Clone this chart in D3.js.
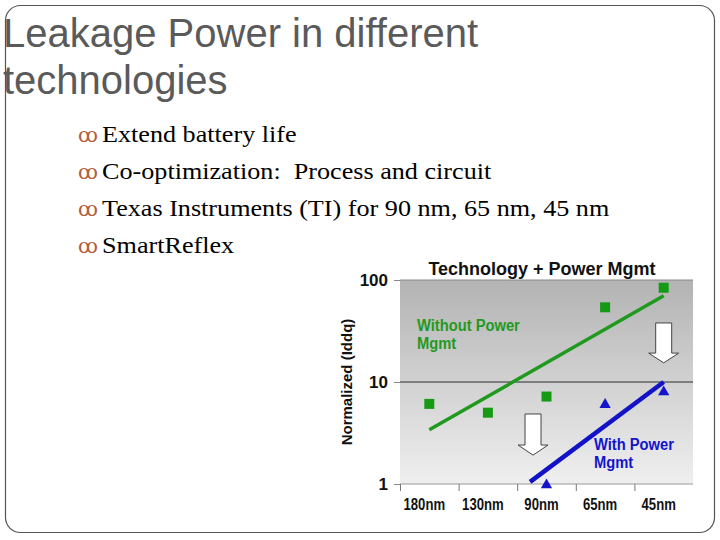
<!DOCTYPE html>
<html>
<head>
<meta charset="utf-8">
<script src="https://cdn.jsdelivr.net/npm/d3@7"></script>
<style>
  body { margin: 0; background: #fff; }
  svg text { font-family: "Liberation Sans", Arial, sans-serif; }
</style>
</head>
<body>
<script>
// slide text
let slideTitle = ["Leakage Power in different", "technologies"];
let bullets = [
  "Extend battery life",
  "Co-optimization:  Process and circuit",
  "Texas Instruments (TI) for 90 nm, 65 nm, 45 nm",
  "SmartReflex"
];

// chart data
let nodes = ["180nm", "130nm", "90nm", "65nm", "45nm"];
let withoutPM = [6.1, 5.0, 7.2, 54, 84];
let withPM = [null, null, 0.98, 6.0, 8.0];
// trend lines: [node index, value]
let withoutTrend = [[0, 3.4], [4, 70]];
let withTrend = [[1.72, 1.05], [4, 10]];
let yTicks = [1, 10, 100];
// arrows: node index, value at top, at start of head, at tip
let arrows = [
  { i: 1.77, top: 4.86, neck: 2.41, tip: 1.92 },
  { i: 4.0, top: 37.9, neck: 19.2, tip: 15.4 }
];

let width = 720, height = 540;
let svg = d3.select("body").append("svg")
  .attr("width", width)
  .attr("height", height);

// slide frame
svg.append("rect")
  .attr("x", 5.5).attr("y", 5.5)
  .attr("width", 709).attr("height", 527)
  .attr("rx", 15)
  .attr("fill", "none")
  .attr("stroke", "#555")
  .attr("stroke-width", 1.2);

// slide title
svg.selectAll("text.title")
  .data(slideTitle)
  .enter().append("text")
  .attr("class", "title")
  .attr("x", 3)
  .attr("y", function(d, i) { return 47 + i * 47; })
  .attr("font-size", 40)
  .attr("fill", "#5a5a5a")
  .text(function(d) { return d; });

// bullets
let bl = svg.selectAll("g.bullet")
  .data(bullets)
  .enter().append("g")
  .attr("class", "bullet")
  .attr("transform", function(d, i) { return "translate(0," + (142 + i * 37) + ")"; });

bl.append("text")
  .attr("x", 78)
  .attr("font-size", 20)
  .attr("fill", "#b0603c")
  .style("font-family", "DejaVu Serif, serif")
  .text("\uA74F");

bl.append("text")
  .attr("transform", "translate(102,0) scale(1.09,1)")
  .attr("font-size", 24)
  .attr("fill", "#000")
  .style("white-space", "pre")
  .style("font-family", "'Liberation Serif', 'Times New Roman', serif")
  .text(function(d) { return d; });

////////////////////////////////////////////////////////////////////////
// chart

let pLeft = 400, pRight = 693, pTop = 280, pBottom = 484;

let x = d3.scaleBand().domain(nodes).range([pLeft, pRight]);
let xi = d3.scaleLinear().domain([-0.5, nodes.length - 0.5]).range([pLeft, pRight]);
let y = d3.scaleLog().domain([1, 100]).range([pBottom, pTop]);

let defs = svg.append("defs");
let grad = defs.append("linearGradient")
  .attr("id", "bg")
  .attr("x1", 0).attr("y1", 0).attr("x2", 0).attr("y2", 1);
grad.append("stop").attr("offset", "0%").attr("stop-color", "#b3b3b3");
grad.append("stop").attr("offset", "78%").attr("stop-color", "#e2e2e2");
grad.append("stop").attr("offset", "100%").attr("stop-color", "#efefef");

svg.append("rect")
  .attr("x", pLeft).attr("y", pTop)
  .attr("width", pRight - pLeft).attr("height", pBottom - pTop)
  .attr("fill", "url(#bg)");

// grid lines at 100 and 10
svg.selectAll("line.grid")
  .data([100, 10])
  .enter().append("line")
  .attr("class", "grid")
  .attr("x1", pLeft).attr("x2", pRight)
  .attr("y1", function(d) { return y(d); })
  .attr("y2", function(d) { return y(d); })
  .attr("stroke", function(d) { return d === 10 ? "#2a2a2a" : "#8a8a8a"; })
  .attr("stroke-width", 1);

// y axis
let yAxis = svg.append("g")
  .attr("transform", "translate(" + pLeft + ",0)")
  .call(d3.axisLeft(y).tickValues(yTicks).tickFormat(d3.format("d")).tickSize(6).tickPadding(6));
yAxis.select(".domain").remove();
yAxis.selectAll(".tick line").attr("stroke", "#888");
yAxis.selectAll(".tick text")
  .attr("font-size", 17)
  .attr("font-weight", "bold")
  .attr("fill", "#111")
  .style("font-family", "'Liberation Sans', Arial, sans-serif");

// x axis: boundary ticks
let xAxis = svg.append("g")
  .attr("transform", "translate(0," + pBottom + ")")
  .call(d3.axisBottom(xi).tickValues(d3.range(-0.5, nodes.length - 1, 1)).tickSize(7).tickFormat(""));
xAxis.select(".domain").attr("stroke", "#999").attr("d", "M" + pLeft + ",0H" + pRight);
xAxis.selectAll(".tick line").attr("stroke", "#777");

// x axis: labels
let xLab = svg.append("g")
  .attr("transform", "translate(-5," + pBottom + ")")
  .call(d3.axisBottom(x).tickSize(0));
xLab.select(".domain").remove();
xLab.selectAll(".tick text")
  .attr("y", 26).attr("dy", 0)
  .attr("transform", "scale(0.82,1)")
  .attr("font-size", 16)
  .attr("font-weight", "bold")
  .attr("fill", "#111")
  .style("font-family", "'Liberation Sans', Arial, sans-serif");

// axis titles
svg.append("text")
  .attr("transform", "translate(352," + ((pTop + pBottom) / 2) + ") rotate(-90)")
  .attr("text-anchor", "middle")
  .attr("font-size", 15)
  .attr("font-weight", "bold")
  .attr("fill", "#111")
  .text("Normalized (Iddq)");

svg.append("text")
  .attr("x", 542).attr("y", 275)
  .attr("text-anchor", "middle")
  .attr("font-size", 18)
  .attr("font-weight", "bold")
  .attr("fill", "#111")
  .text("Technology + Power Mgmt");

// trend lines
let line = d3.line()
  .x(function(d) { return xi(d[0]); })
  .y(function(d) { return y(d[1]); });

svg.append("path")
  .attr("d", line(withoutTrend))
  .attr("fill", "none")
  .attr("stroke", "#1f9a1f")
  .attr("stroke-width", 3.5);

svg.append("path")
  .attr("d", line(withTrend))
  .attr("fill", "none")
  .attr("stroke", "#1212c8")
  .attr("stroke-width", 4.5);

// markers
svg.selectAll("rect.sq")
  .data(withoutPM)
  .enter().append("rect")
  .attr("class", "sq")
  .attr("x", function(d, i) { return x(nodes[i]) + x.bandwidth() / 2 - 5; })
  .attr("y", function(d) { return y(d) - 5; })
  .attr("width", 10).attr("height", 10)
  .attr("fill", "#169a16");

svg.selectAll("path.tri")
  .data(withPM.map(function(v, i) { return { v: v, n: nodes[i] }; }).filter(function(d) { return d.v !== null; }))
  .enter().append("path")
  .attr("class", "tri")
  .attr("d", d3.symbol().type(d3.symbolTriangle).size(55))
  .attr("transform", function(d) {
    return "translate(" + (x(d.n) + x.bandwidth() / 2) + "," + y(d.v) + ")";
  })
  .attr("fill", "#1414cc");

// block arrows
svg.selectAll("path.arrow")
  .data(arrows)
  .enter().append("path")
  .attr("class", "arrow")
  .attr("d", function(d) {
    let cx = xi(d.i), t = y(d.top), n = y(d.neck), p = y(d.tip);
    return "M" + (cx - 8) + "," + t + "H" + (cx + 8) + "V" + n + "H" + (cx + 15) +
      "L" + cx + "," + p + "L" + (cx - 15) + "," + n + "H" + (cx - 8) + "Z";
  })
  .attr("fill", "#fff")
  .attr("stroke", "#444")
  .attr("stroke-width", 1);

// series labels
let labels = [
  { lines: ["Without Power", "Mgmt"], x: 417, y: 331, color: "#1f9a1f" },
  { lines: ["With Power", "Mgmt"], x: 594, y: 450, color: "#1414cc" }
];
labels.forEach(function(l) {
  let g = svg.append("g").attr("transform", "translate(" + l.x + "," + l.y + ") scale(0.92,1)");
  g.selectAll("text")
    .data(l.lines)
    .enter().append("text")
    .attr("y", function(d, i) { return i * 18; })
    .attr("font-size", 16)
    .attr("font-weight", "bold")
    .attr("fill", l.color)
    .text(function(d) { return d; });
});
</script>
</body>
</html>
